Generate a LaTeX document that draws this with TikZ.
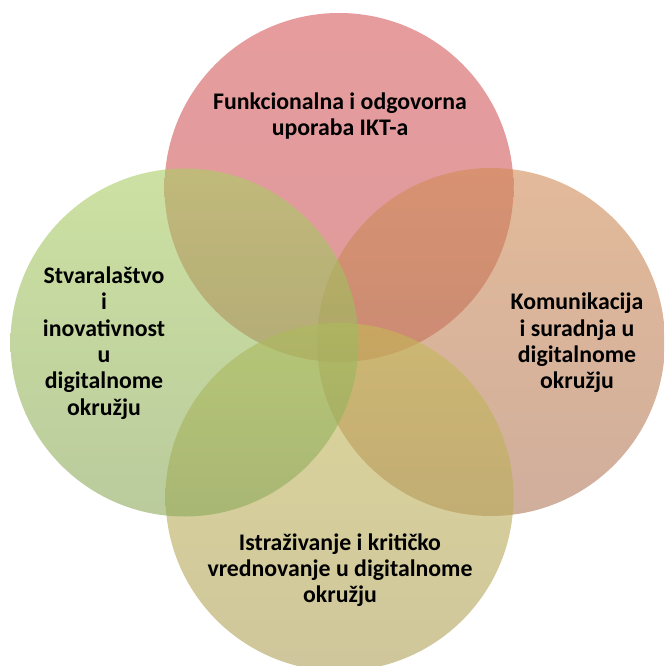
\documentclass[tikz,border=0pt]{standalone}
\usepackage{fontspec}
\setmainfont{Carlito}
\begin{document}
\begin{tikzpicture}[x=1pt,y=-1pt,
  lbl/.style={align=center,font=\bfseries\fontsize{23.8}{26.3}\selectfont,text=black,inner sep=0pt}]
\definecolor{cTopA}{RGB}{214,90,92}
\definecolor{cTopB}{RGB}{200,88,88}
\definecolor{cRgtA}{RGB}{208,140,86}
\definecolor{cRgtB}{RGB}{176,120,90}
\definecolor{cLftA}{RGB}{170,205,100}
\definecolor{cLftB}{RGB}{140,168,90}
\definecolor{cBotA}{RGB}{198,186,88}
\definecolor{cBotB}{RGB}{174,160,88}
\useasboundingbox (0,0) rectangle (664,666);
\begin{scope}
\clip (0,0) rectangle (664,666);
\shade[top color=cTopA,bottom color=cTopB,fill opacity=0.6] (339,187.5) circle (174.5);
\shade[top color=cRgtA,bottom color=cRgtB,fill opacity=0.6] (491,342) circle (174);
\shade[top color=cBotA,bottom color=cBotB,fill opacity=0.6] (339.5,497) circle (174);
\shade[top color=cLftA,bottom color=cLftB,fill opacity=0.6] (184.5,342.5) circle (174);
\end{scope}
\node[lbl] (top) at (340,116) {Funkcionalna i odgovorna\\uporaba IKT-a};
\node[lbl] (left) at (104,343) {Stvaralaštvo\\i\\inovativnost\\u\\digitalnome\\okružju};
\node[lbl] (right) at (577,343) {Komunikacija\\i suradnja u\\digitalnome\\okružju};
\node[lbl] (bottom) at (340,570) {Istraživanje i kritičko\\vrednovanje u digitalnome\\okružju};
\end{tikzpicture}
\end{document}
